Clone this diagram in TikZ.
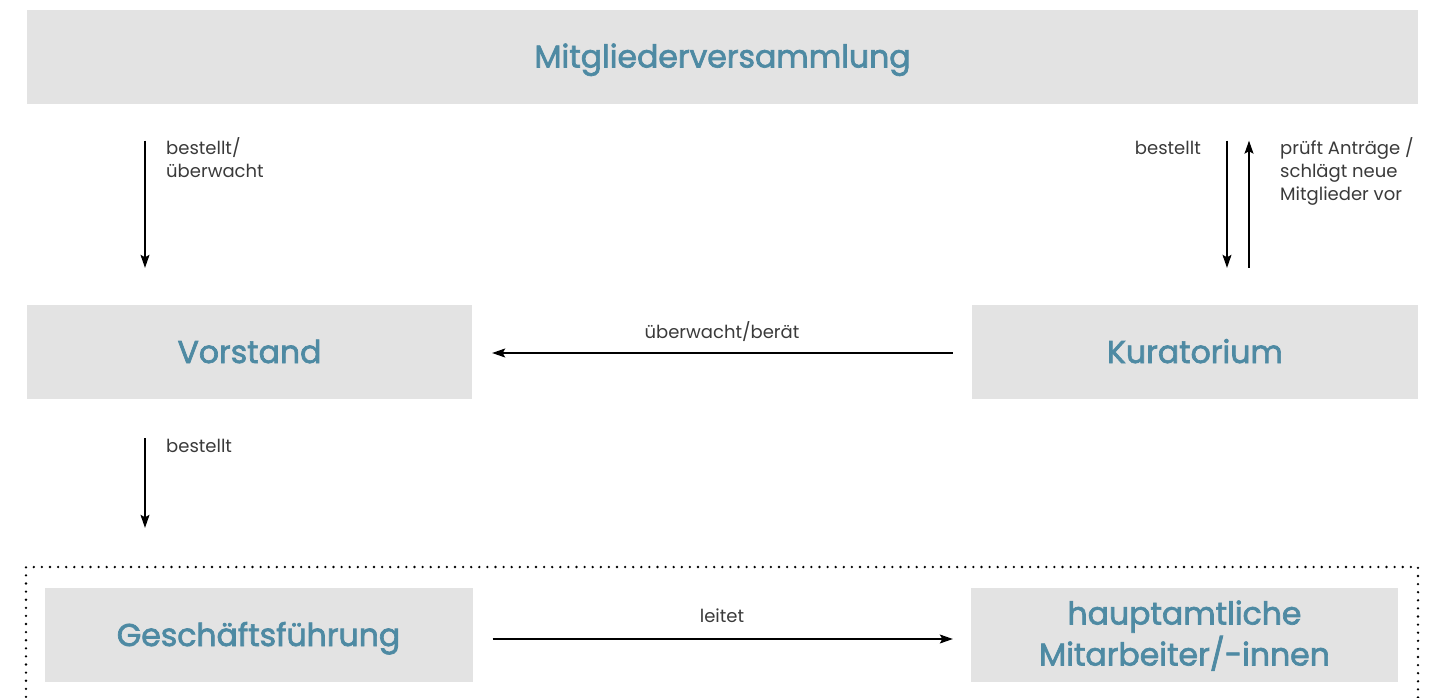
\documentclass[tikz,border=0pt]{standalone}
\usepackage{fontspec}
\setmainfont{Poppins}
\newfontfamily\titlefont[FakeBold=2.2]{Poppins}
\usetikzlibrary{arrows.meta}
\definecolor{boxgray}{HTML}{E3E3E3}
\definecolor{titleblue}{HTML}{4E8AA3}
\definecolor{labelgray}{HTML}{3A3A3A}
\tikzset{
  orgbox/.style={fill=boxgray, draw=none, inner sep=0pt, text=titleblue,
    font=\titlefont\fontsize{31.5}{41}\selectfont, align=center,
    minimum height=94pt},
  caps/.style={text height=22pt, text depth=0pt},
  arr/.style={line width=1.1pt, -{Stealth[length=13pt,width=9pt,inset=2.5pt]}},
  lbl/.style={inner sep=0pt, text=labelgray, font=\fontsize{18}{23}\selectfont}
}
\begin{document}
\begin{tikzpicture}[x=1pt,y=-1pt]
\useasboundingbox (0,0) rectangle (1436,697);

% boxes of the organisation chart
\node[orgbox, caps, minimum width=1391pt] (mv)  at (722.5,56.5) {Mitgliederversammlung};
\node[orgbox, caps, minimum width=445pt]  (vor) at (249.5,352)  {Vorstand};
\node[orgbox, caps, minimum width=446pt]  (kur) at (1195,352)   {Kuratorium};
\node[orgbox, caps, minimum width=428pt]  (gf)  at (258.5,635)  {Geschäftsführung};
\node[orgbox, minimum width=427pt, text depth=4pt] (ha) at (1184.5,635) {hauptamtliche\\Mitarbeiter/-innen};

% staff area framed by a dotted line
\draw[line width=2.6pt, line cap=round, dash pattern=on 0pt off 8.1pt]
  (26,705) -- (26,567) -- (1418,567) -- (1418,705);

% x positions of the vertical connectors
\coordinate (xa) at (145,0);
\coordinate (xb) at (1227,0);
\coordinate (xc) at (1249,0);

% connectors
\draw[arr, shorten <=37pt, shorten >=37pt] (mv.south -| xa) -- (vor.north -| xa);
\draw[arr, shorten <=37pt, shorten >=37pt] (mv.south -| xb) -- (kur.north -| xb);
\draw[arr, shorten <=37pt, shorten >=37pt] (kur.north -| xc) -- (mv.south -| xc);
\draw[arr, shorten <=19pt, shorten >=20pt] ([yshift=-1pt]kur.west) -- ([yshift=-1pt]vor.east);
\draw[arr, shorten <=39pt, shorten >=60pt] (vor.south -| xa) -- (gf.north -| xa);
\draw[arr, shorten <=20pt, shorten >=18pt] ([yshift=-4pt]gf.east) -- ([yshift=-4pt]gf.east -| ha.west);

% connector labels (multi-line ones are placed by their last baseline)
\node[lbl, anchor=base west, align=left] (l1) at (166,177) {bestellt/\\überwacht};
\node[lbl, anchor=base east] (l2) at (1201,154) {bestellt};
\node[lbl, anchor=base west, align=left] (l3) at (1280,200) {prüft Anträge /\\schlägt neue\\Mitglieder vor};
\node[lbl, anchor=base] (l4) at (722,338) {überwacht/berät};
\node[lbl, anchor=base west] (l5) at (166,452) {bestellt};
\node[lbl, anchor=base] (l6) at (722,622) {leitet};
\end{tikzpicture}
\end{document}
